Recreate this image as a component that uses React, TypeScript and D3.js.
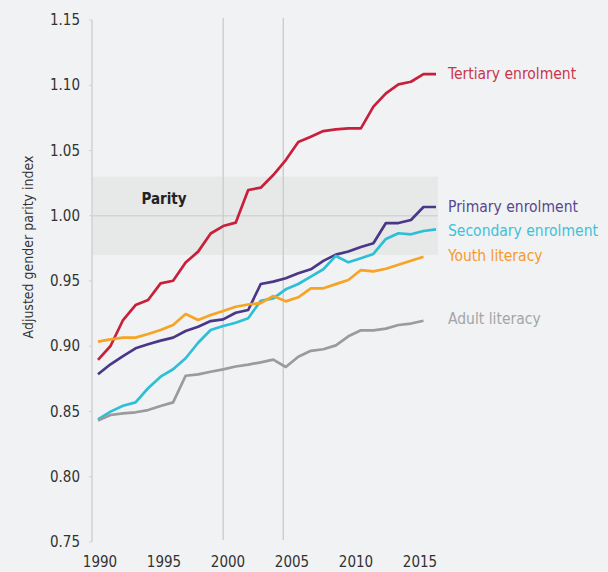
import * as d3 from 'd3';
import React from 'react';

const years = d3.range(1990, 2018);

const tertiary = [
  0.8895, 0.9002, 0.9201, 0.9316, 0.9354, 0.9482, 0.9502, 0.9642, 0.9725, 0.9864,
  0.9921, 0.9947, 1.0197, 1.0215, 1.0312, 1.0427, 1.0565, 1.0606, 1.0649, 1.0662,
  1.067, 1.067, 1.0836, 1.0938, 1.1007, 1.1027, 1.1086, 1.1086,
];
const primary = [
  0.8785, 0.8862, 0.8925, 0.8984, 0.9015, 0.9043, 0.9066, 0.9117, 0.915, 0.9193,
  0.9206, 0.9257, 0.9278, 0.9477, 0.9495, 0.9521, 0.9559, 0.959, 0.9654, 0.9702,
  0.9726, 0.9761, 0.9789, 0.9944, 0.9944, 0.9967, 1.0067, 1.0067,
];
const secondary = [
  0.844, 0.8499, 0.8544, 0.857, 0.8678, 0.8767, 0.8824, 0.8908, 0.9027, 0.9125,
  0.9155, 0.918, 0.9214, 0.9349, 0.9367, 0.9436, 0.9477, 0.9533, 0.959, 0.9692,
  0.9643, 0.9674, 0.9707, 0.9822, 0.9866, 0.9858, 0.9883, 0.9896,
];
const youthLiteracy = [
  0.9035, 0.9053, 0.9066, 0.9066, 0.9094, 0.9125, 0.9163, 0.9247, 0.9201, 0.9239,
  0.927, 0.9303, 0.932, 0.9331, 0.9385, 0.9344, 0.9375, 0.9444, 0.9444, 0.9476,
  0.9508, 0.9584, 0.9574, 0.9594, 0.9625, 0.9655, 0.9686,
];
const adultLiteracy = [
  0.843, 0.8473, 0.8486, 0.8494, 0.8511, 0.8542, 0.857, 0.8774, 0.8785, 0.8805,
  0.8823, 0.8845, 0.8859, 0.8877, 0.8897, 0.8841, 0.892, 0.8965, 0.8977, 0.9007,
  0.9076, 0.9122, 0.9122, 0.9135, 0.9163, 0.9174, 0.9195,
];

const seriesNames = ['Tertiary enrolment', 'Primary enrolment', 'Secondary enrolment', 'Youth literacy', 'Adult literacy'];
const seriesValues = [tertiary, primary, secondary, youthLiteracy, adultLiteracy];
const lineColors = ['#c8203b', '#4a3787', '#2cbfd6', '#f7a323', '#9b9b9d'];
const labelColors = ['#c9364c', '#574790', '#3cc2d9', '#f59a2c', '#a4a5a7'];
const labelValues = [1.109, 1.007, 0.988, 0.969, 0.921];

const yTicks = [0.75, 0.8, 0.85, 0.9, 0.95, 1.0, 1.05, 1.1, 1.15];
const xTickLabels = [1990, 1995, 2000, 2005, 2010, 2015];
const markerYears = [2000, 2004.8];
const parityBand = [0.97, 1.03];

const W = 608;
const H = 572;
const font = "'DejaVu Sans Condensed', 'DejaVu Sans', sans-serif";

export default function App() {
  const x = d3.scaleLinear().domain([1990, 2017]).range([98, 436]);
  const xLabel = d3.scaleLinear().domain([1990, 2015]).range([100, 420]);
  const y = d3.scaleLinear().domain([0.75, 1.15]).range([542, 20]);

  const line = d3
    .line<number>()
    .x((_, i) => x(years[i]))
    .y((d) => y(d));

  const plotLeft = 92;
  const plotRight = 438;

  return (
    <div style={{ position: 'fixed', left: 0, top: 0, width: W, height: H, background: '#f1f2f4' }}>
      <svg width={W} height={H} style={{ display: 'block', fontFamily: font }}>
        {/* parity band */}
        <rect
          x={plotLeft}
          y={y(parityBand[1])}
          width={plotRight - plotLeft}
          height={y(parityBand[0]) - y(parityBand[1])}
          fill="#e7e8e8"
        />
        <line x1={plotLeft} x2={plotRight} y1={y(1)} y2={y(1)} stroke="#d3d4d5" strokeWidth={1.3} />
        <text x={164} y={y(1.013)} textAnchor="middle" dominantBaseline="central" fontWeight="bold" fontSize={15} fill="#222">
          Parity
        </text>

        {/* marker lines */}
        {markerYears.map((yr) => (
          <line key={yr} x1={x(yr)} x2={x(yr)} y1={y(1.15) - 2} y2={y(0.75) - 2} stroke="#cbccce" strokeWidth={1.4} />
        ))}

        {/* y axis */}
        <line x1={plotLeft} x2={plotLeft} y1={y(1.15)} y2={y(0.75)} stroke="#cfd0d2" strokeWidth={1.4} />
        {yTicks.map((t) => (
          <g key={t} transform={`translate(0,${y(t)})`}>
            <line x1={plotLeft - 3} x2={plotLeft} stroke="#cfd0d2" strokeWidth={1} />
            <text x={80} textAnchor="end" dominantBaseline="central" fontSize={15} fill="#333">
              {d3.format('.2f')(t)}
            </text>
          </g>
        ))}
        <text
          transform={`translate(28,${(y(0.75) + y(1.15)) / 2 - 34}) rotate(-90)`}
          textAnchor="middle"
          dominantBaseline="central"
          fontSize={14}
          fill="#333"
        >
          Adjusted gender parity index
        </text>

        {/* x labels */}
        {xTickLabels.map((t) => (
          <text key={t} x={xLabel(t)} y={562} textAnchor="middle" dominantBaseline="central" fontSize={15} fill="#333">
            {t}
          </text>
        ))}

        {/* series */}
        {seriesValues.map((vals, i) => (
          <path
            key={seriesNames[i]}
            d={line(vals) || ''}
            fill="none"
            stroke={lineColors[i]}
            strokeWidth={2.7}
            strokeLinejoin="round"
          />
        ))}

        {seriesNames.map((name, i) => (
          <text key={name} x={448} y={y(labelValues[i])} dominantBaseline="central" fontSize={15.5} fill={labelColors[i]}>
            {name}
          </text>
        ))}
      </svg>
    </div>
  );
}
